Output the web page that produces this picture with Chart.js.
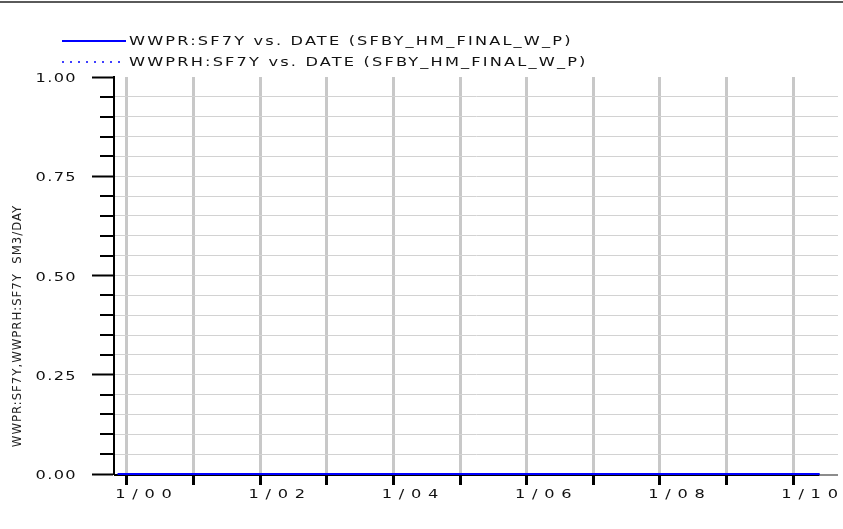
<!DOCTYPE html>
<html>
<head>
<meta charset="utf-8">
<script src="https://cdn.jsdelivr.net/npm/chart.js@4/dist/chart.umd.min.js"></script>
<style>
  html, body { margin: 0; padding: 0; background: #ffffff; }
  #wrap { width: 843px; height: 529px; }
</style>
</head>
<body>
<div id="wrap"><canvas id="c" width="843" height="529"></canvas></div>
<script>
// Dates as decimal years (1/00 = Jan 2000)
const dates = [1999.86, 2000, 2001, 2002, 2003, 2004, 2005, 2006, 2007, 2008, 2009, 2010, 2010.4];
// Simulated water production rate, SF7Y
const wwpr  = [0, 0, 0, 0, 0, 0, 0, 0, 0, 0, 0, 0, 0];
// Historical water production rate, SF7Y
const wwprh = [0, 0, 0, 0, 0, 0, 0, 0, 0, 0, 0, 0, 0];

const yearTicks = [2000, 2001, 2002, 2003, 2004, 2005, 2006, 2007, 2008, 2009, 2010];
const yearLabels = ['1/00', '', '1/02', '', '1/04', '', '1/06', '', '1/08', '', '1/10'];
const seriesLabels = [
  'WWPR:SF7Y vs. DATE (SFBY_HM_FINAL_W_P)',
  'WWPRH:SF7Y vs. DATE (SFBY_HM_FINAL_W_P)'
];
const yAxisTitle = 'WWPR:SF7Y,WWPRH:SF7Y  SM3/DAY';

const isMajorY = v => Math.abs(v * 4 - Math.round(v * 4)) < 1e-6;

// Wide lettering: horizontal stretch plus extra spacing
const STRETCH = 1.35;
const tickSpacing = { x: '5px', y: '1px' };

// Draw text stretched horizontally about its anchor point
function stretchedText(ctx, text, x, y, sx) {
  ctx.save();
  ctx.translate(x, y);
  ctx.scale(sx, 1);
  CanvasRenderingContext2D.prototype.fillText.call(ctx, text, 0, 0);
  ctx.restore();
}

const wideLabels = {
  id: 'wideLabels',
  afterLayout(chart) {
    Object.values(chart.scales).forEach(scale => {
      if (scale._wideWrapped) return;
      const sp = tickSpacing[scale.id];
      if (!sp) return;
      const orig = scale.drawLabels;
      scale.drawLabels = function (area) {
        const ctx = this.ctx;
        ctx.save();
        ctx.letterSpacing = sp;
        ctx.fillText = function (t, x, y) { stretchedText(this, t, x, y, STRETCH); };
        try {
          orig.call(this, area);
        } finally {
          delete ctx.fillText;
          ctx.restore();
        }
      };
      scale._wideWrapped = true;
    });
  }
};

const frame = {
  id: 'frame',
  beforeDatasetsDraw(chart) {
    const { ctx, chartArea } = chart;
    const x = chart.scales.x, y = chart.scales.y;
    const yb = y.getPixelForValue(0);
    const xEnd = x.getPixelForValue(dates[dates.length - 1]);
    ctx.save();
    // bottom axis: dark under the data, grey beyond it
    ctx.lineWidth = 2;
    ctx.strokeStyle = '#000000';
    ctx.beginPath();
    ctx.moveTo(chartArea.left, yb + 1);
    ctx.lineTo(xEnd, yb + 1);
    ctx.stroke();
    ctx.strokeStyle = '#8c8c8c';
    ctx.beginPath();
    ctx.moveTo(xEnd, yb + 1);
    ctx.lineTo(chartArea.right, yb + 1);
    ctx.stroke();
    ctx.restore();
  },
  afterDraw(chart) {
    const { ctx, chartArea } = chart;
    const y = chart.scales.y;
    ctx.save();
    // top rule
    ctx.strokeStyle = '#5a5a5a';
    ctx.lineWidth = 2;
    ctx.beginPath();
    ctx.moveTo(0, 2);
    ctx.lineTo(chart.width, 2);
    ctx.stroke();

    // minor y ticks
    ctx.strokeStyle = '#000000';
    ctx.lineWidth = 2;
    y.ticks.forEach(t => {
      if (isMajorY(t.value)) return;
      const py = Math.round(y.getPixelForValue(t.value));
      ctx.beginPath();
      ctx.moveTo(chartArea.left - 14, py);
      ctx.lineTo(chartArea.left, py);
      ctx.stroke();
    });

    // y axis title
    ctx.translate(18, 326);
    ctx.rotate(-Math.PI / 2);
    ctx.font = '13px "DejaVu Sans Condensed", "DejaVu Sans", sans-serif';
    ctx.letterSpacing = '1px';
    ctx.fillStyle = '#222222';
    ctx.textAlign = 'center';
    ctx.textBaseline = 'middle';
    ctx.fillText(yAxisTitle, 0, 0);
    ctx.restore();

    // legend
    ctx.save();
    chart.data.datasets.forEach((ds, i) => {
      const ly = 41 + i * 21;
      ctx.strokeStyle = ds.borderColor;
      ctx.lineWidth = i === 0 ? 2 : 1.5;
      ctx.setLineDash(ds.borderDash || []);
      ctx.beginPath();
      ctx.moveTo(62, ly);
      ctx.lineTo(126, ly);
      ctx.stroke();
      ctx.setLineDash([]);
      ctx.font = '12px "DejaVu Sans", sans-serif';
      ctx.letterSpacing = '1.6px';
      ctx.fillStyle = '#111111';
      ctx.textBaseline = 'middle';
      ctx.textAlign = 'left';
      stretchedText(ctx, ds.label, 129, ly + 1, STRETCH);
    });
    ctx.restore();
  }
};

const tickFont = { family: '"DejaVu Sans", sans-serif', size: 12 };

new Chart(document.getElementById('c'), {
  type: 'line',
  data: {
    datasets: [
      {
        label: seriesLabels[0],
        data: dates.map((d, i) => ({ x: d, y: wwpr[i] })),
        borderColor: '#0000ff',
        borderWidth: 2,
        pointRadius: 0,
        clip: false,
        order: 0
      },
      {
        label: seriesLabels[1],
        data: dates.map((d, i) => ({ x: d, y: wwprh[i] })),
        borderColor: '#0000ff',
        borderWidth: 1,
        borderDash: [2, 6],
        pointRadius: 0,
        clip: false,
        order: 1
      }
    ]
  },
  options: {
    responsive: false,
    animation: false,
    layout: { padding: { top: 77, left: 0, right: 5, bottom: 0 } },
    plugins: { legend: { display: false }, tooltip: { enabled: false } },
    scales: {
      x: {
        type: 'linear',
        min: 1999.805,
        max: 2010.675,
        afterBuildTicks(scale) {
          scale.ticks = yearTicks.map(v => ({ value: v }));
        },
        afterFit(scale) { scale.height = 55; },
        ticks: {
          autoSkip: false,
          maxRotation: 0,
          minRotation: 0,
          padding: 3,
          labelOffset: 20,
          color: '#111111',
          font: tickFont,
          callback: (v, i) => yearLabels[i]
        },
        grid: {
          color: '#c8c8c8',
          lineWidth: 3,
          tickLength: 11,
          tickColor: '#000000',
          tickWidth: 3
        },
        border: { display: false }
      },
      y: {
        min: 0,
        max: 1,
        afterFit(scale) { scale.width = 114; },
        ticks: {
          stepSize: 0.05,
          autoSkip: false,
          padding: 15,
          labelOffset: 2,
          color: '#111111',
          font: tickFont,
          callback: v => (isMajorY(v) ? v.toFixed(2) : '')
        },
        grid: {
          color: c => (c.tick && Math.abs(c.tick.value - 1) < 1e-6 ? 'rgba(0,0,0,0)' : '#d2d2d2'),
          lineWidth: 1,
          tickLength: 22,
          tickWidth: 2,
          tickColor: c => (c.tick && isMajorY(c.tick.value) ? '#000000' : 'rgba(0,0,0,0)')
        },
        border: { display: true, color: '#000000', width: 2 }
      }
    }
  },
  plugins: [wideLabels, frame]
});
</script>
</body>
</html>
